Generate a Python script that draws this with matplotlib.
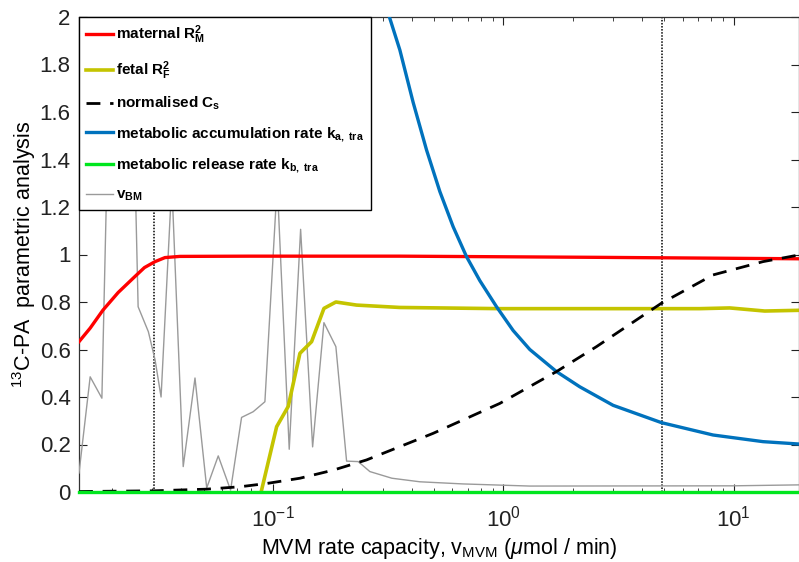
import matplotlib
matplotlib.use("Agg")
import matplotlib.pyplot as plt
from matplotlib.ticker import LogLocator, NullFormatter, FixedLocator

plt.rcParams['font.family'] = ['Liberation Sans', 'DejaVu Sans']
plt.rcParams['mathtext.fontset'] = 'custom'
plt.rcParams['mathtext.rm'] = 'Liberation Sans'
plt.rcParams['mathtext.it'] = 'Liberation Sans:italic'
plt.rcParams['mathtext.bf'] = 'Liberation Sans:bold'

# ---- data ----
red_x = [0.0144, 0.0161, 0.0183, 0.0213, 0.0251, 0.0277, 0.0308, 0.0340, 0.0395, 0.0795, 0.356, 2.62, 19.2]
red_y = [0.633, 0.69, 0.766, 0.84, 0.906, 0.945, 0.97, 0.987, 0.992, 0.993, 0.993, 0.988, 0.982]

fetal_x = [0.0835, 0.0893, 0.1038, 0.1165, 0.1310, 0.1472, 0.1665, 0.1876, 0.2307, 0.3556, 0.9656, 2.623, 7.121, 9.61, 13.63, 19.2]
fetal_y = [-0.11, 0.008, 0.275, 0.36, 0.584, 0.633, 0.773, 0.80, 0.787, 0.777, 0.772, 0.772, 0.772, 0.775, 0.762, 0.765]

cs_x = [0.0144, 0.0305, 0.0517, 0.0719, 0.0942, 0.1310, 0.1827, 0.2549, 0.3556, 0.4959, 0.6922, 0.9656,
        1.393, 1.701, 2.537, 4.857, 8.131, 13.40, 19.2]
cs_y = [0.002, 0.005, 0.012, 0.022, 0.036, 0.058, 0.092, 0.135, 0.191, 0.247, 0.31, 0.373,
        0.46, 0.507, 0.612, 0.795, 0.914, 0.97, 0.998]

ka_x = [0.3062, 0.3556, 0.4062, 0.4643, 0.5303, 0.6056, 0.6922, 0.7907, 0.9344, 1.103, 1.303,
        1.701, 2.147, 2.995, 4.857, 8.131, 13.40, 19.2]
ka_y = [2.06, 1.861, 1.64, 1.44, 1.265, 1.117, 0.991, 0.89, 0.78, 0.68, 0.60,
        0.507, 0.443, 0.365, 0.292, 0.24, 0.212, 0.202]

kb_x = [0.0144, 0.1, 1.0, 10.0, 19.2]
kb_y = [0.0, 0.0, 0.0, 0.0, 0.0]

vbm_x = [0.0144, 0.0161, 0.0181, 0.0192, 0.0219, 0.0250, 0.0260, 0.0288, 0.0308, 0.0327,
         0.0364, 0.0408, 0.0459, 0.0516, 0.0579, 0.0655, 0.0731, 0.0821, 0.0923, 0.1044,
         0.1177, 0.1319, 0.1487, 0.1665, 0.1876, 0.2088, 0.2345, 0.2635, 0.3283, 0.4343,
         0.6672, 1.303, 9.90, 19.2]
vbm_y = [0.08, 0.485, 0.395, 1.5, 1.6, 1.5, 0.78, 0.675, 0.556, 0.40,
         1.3, 0.107, 0.48, 0.017, 0.152, 0.008, 0.314, 0.338, 0.38, 1.3,
         0.18, 1.106, 0.19, 0.713, 0.612, 0.13, 0.128, 0.086, 0.058, 0.043,
         0.034, 0.025, 0.026, 0.03]

vlines_x = [0.0305, 4.86]

y_ticks = [0, 0.2, 0.4, 0.6, 0.8, 1, 1.2, 1.4, 1.6, 1.8, 2]
y_ticklabels = ['0', '0.2', '0.4', '0.6', '0.8', '1', '1.2', '1.4', '1.6', '1.8', '2']

labels = [r'maternal $\mathbf{R_M^2}$',
          r'fetal $\mathbf{R_F^2}$',
          r'normalised $\mathbf{C_s}$',
          r'metabolic accumulation rate $\mathbf{k_{a,\ tra}}$',
          r'metabolic release rate $\mathbf{k_{b,\ tra}}$',
          r'$\mathbf{v_{BM}}$']

# ---- figure ----
fig = plt.figure(figsize=(7.99, 5.62), dpi=100)
ax = fig.add_axes([79/799, 70/562, 1 - 79/799, 475/562])
ax.set_xscale('log')

h1, = ax.plot(red_x, red_y, color='#ff0000', lw=2.4, zorder=4)
h2, = ax.plot(fetal_x, fetal_y, color='#c4c400', lw=2.6, zorder=4)
h3, = ax.plot(cs_x, cs_y, color='black', lw=2.0, ls=(0, (5, 3.5)), zorder=5)
h4, = ax.plot(ka_x, ka_y, color='#0072bd', lw=2.4, zorder=4)
h5, = ax.plot(kb_x, kb_y, color='#00e61e', lw=2.4, zorder=6, clip_on=False)
h6, = ax.plot(vbm_x, vbm_y, color='#9a9a9a', lw=1.0, zorder=3)
for vx in vlines_x:
    ax.axvline(vx, color='black', lw=1.1, ls=(0, (1, 1)), zorder=2)

ax.set_xlim(0.0144, 19.2)
ax.set_ylim(0, 2)
ax.yaxis.set_major_locator(FixedLocator(y_ticks))
ax.set_yticklabels(y_ticklabels)
ax.xaxis.set_major_locator(LogLocator(base=10, numticks=10))
ax.xaxis.set_minor_locator(LogLocator(base=10, subs=range(2, 10), numticks=20))
ax.xaxis.set_minor_formatter(NullFormatter())

ax.tick_params(axis='both', which='both', direction='in', top=True, right=True,
               labelsize=16, colors='#222222')
ax.tick_params(axis='both', which='major', length=6, width=0.8)
ax.tick_params(axis='y', which='major', pad=6)
ax.tick_params(axis='x', which='major', pad=10)
ax.tick_params(axis='both', which='minor', length=3, width=0.6)
for s in ax.spines.values():
    s.set_linewidth(0.9)
    s.set_color('#333333')

ax.set_ylabel(r'$^{13}$C-PA  parametric analysis', fontsize=15.5, labelpad=1)
ax.set_xlabel(r'MVM rate capacity, v$_{\mathrm{MVM}}$ ($\mathit{\mu}$mol / min)', fontsize=15.5, labelpad=3)

leg = ax.legend([h1, h2, h3, h4, h5, h6], labels, loc='upper left',
                bbox_to_anchor=(0, 1), borderaxespad=0, fancybox=False,
                framealpha=1, edgecolor='black', handlelength=1.75,
                handletextpad=0.2, labelspacing=0.85, borderpad=0.45,
                prop={'weight': 'bold', 'size': 11})
leg.get_frame().set_linewidth(1.0)
leg.set_zorder(10)

fig.savefig('out.png', dpi=100)
